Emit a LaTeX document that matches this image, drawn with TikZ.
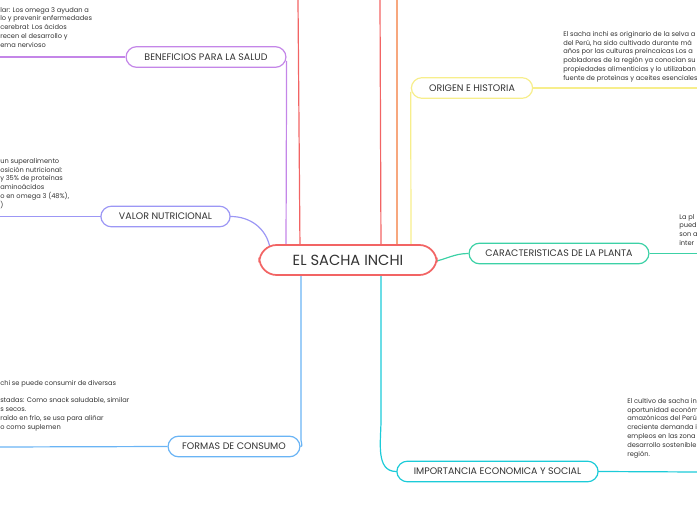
\documentclass[tikz,border=0pt]{standalone}
\usepackage{fontspec}
\setmainfont{Poppins}
\begin{document}
\begin{tikzpicture}[x=0.75pt,y=-0.75pt,
  topic/.style={draw,line width=0.9pt,rounded corners=8pt,fill=white,font=\fontsize{7.1}{8}\selectfont,text=black!80,minimum height=15.5pt,inner xsep=0pt},
  note/.style={font=\fontsize{5}{6.6}\selectfont,text=black!80,align=left,inner sep=0pt},
  ln/.style={line width=0.9pt}]
\useasboundingbox (0,0) rectangle (697,520);
\clip (0,0) rectangle (697,520);
\definecolor{cred}{HTML}{F26464}
\definecolor{corange}{HTML}{F7A77E}
\definecolor{cpurple}{HTML}{C486E8}
\definecolor{clav}{HTML}{9C97F5}
\definecolor{cyellow}{HTML}{F7EE8C}
\definecolor{cgreen}{HTML}{3CD1A6}
\definecolor{cblue}{HTML}{6AB4F5}
\definecolor{cteal}{HTML}{1CCBD8}
% connectors
\draw[ln,cred] (300,250) -- (298,0);
\draw[ln,cred] (381,250) -- (380,0);
\draw[ln,corange] (397,250) -- (397,0);
\coordinate (c) at (348,260);
\node[topic,draw=cpurple,minimum width=120pt] (ben) at (206,57) {BENEFICIOS PARA LA SALUD};
\node[topic,draw=clav,minimum width=97pt] (val) at (165.5,216.5) {VALOR NUTRICIONAL};
\node[topic,draw=cblue,minimum width=99pt] (for) at (234,446.5) {FORMAS DE CONSUMO};
\node[topic,draw=cyellow,minimum width=91pt] (ori) at (472,88) {ORIGEN E HISTORIA};
\node[topic,draw=cgreen,minimum width=135pt] (car) at (559,253.5) {CARACTERISTICAS DE LA PLANTA};
\node[topic,draw=cteal,minimum width=151pt] (imp) at (497.5,471.5) {IMPORTANCIA ECONOMICA Y SOCIAL};
\coordinate (e1) at (0,57);\coordinate (e2) at (0,216.5);\coordinate (e3) at (0,447);
\coordinate (e4) at (697,88);\coordinate (e5) at (697,253.5);\coordinate (e6) at (697,472);
\draw[ln,cpurple] (ben.east) ++(0,4) -- (286,250);
\draw[ln,clav] (val.east) to[out=0,in=100] (270,248);
\draw[ln,cblue] (301,270) -- (301,440) to[out=-90,in=0] (for.east);
\draw[ln,cyellow] (ori.west) ++(0,4) -- (411,250);
\draw[ln,cgreen] (432,262) to[out=10,in=180] (car.west);
\draw[ln,cteal] (381,270) -- (381,420) to[out=-90,in=180] (imp.west);
\draw[ln,cpurple] (ben.west) -- (e1);
\draw[ln,clav] (val.west) -- (e2);
\draw[ln,cblue] (for.west) -- (e3);
\draw[ln,cyellow] (ori.east) -- (e4);
\draw[ln,cgreen] (car.east) -- (e5);
\draw[ln,cteal] (imp.east) -- (e6);
\node[draw=cred,line width=1.3pt,rounded corners=13pt,fill=white,minimum width=133pt,minimum height=22.5pt,inner xsep=0pt,font=\fontsize{11}{12}\selectfont,text=black!80] (root) at (348,260) {EL SACHA INCHI};
% notes
\node[note,anchor=north west] (n1) at (0,7) {lar: Los omega 3 ayudan a\\lo y prevenir enfermedades\\ cerebral: Los ácidos\\recen el desarrollo y\\ema nervioso};
\node[note,anchor=north west] (n2) at (0,158) {un superalimento\\osición nutricional:\\y 35\% de proteínas\\ aminoácidos\\o en omega 3 (48\%),\\)};
\node[note,anchor=north west] (n3) at (0,380) {chi se puede consumir de diversas\\[6.6pt]stadas: Como snack saludable, similar\\s secos.\\raído en frío, se usa para aliñar\\o como suplemen};
\node[note,anchor=north west] (n4) at (563,31) {El sacha inchi es originario de la selva a\\del Perú,  ha sido cultivado durante má\\años por las  culturas preincaicas Los a\\pobladores de la región ya conocían su\\propiedades alimenticias y lo utilizaban\\fuente de proteínas y aceites esenciales};
\node[note,anchor=north west] (n5) at (679,214) {La pl\\pued\\son a\\inter};
\node[note,anchor=north west] (n6) at (627,398) {El cultivo de sacha in\\oportunidad económ\\amazónicas del Perú\\creciente demanda i\\empleos en las zona\\desarrollo sostenible\\región.};
\end{tikzpicture}
\end{document}
